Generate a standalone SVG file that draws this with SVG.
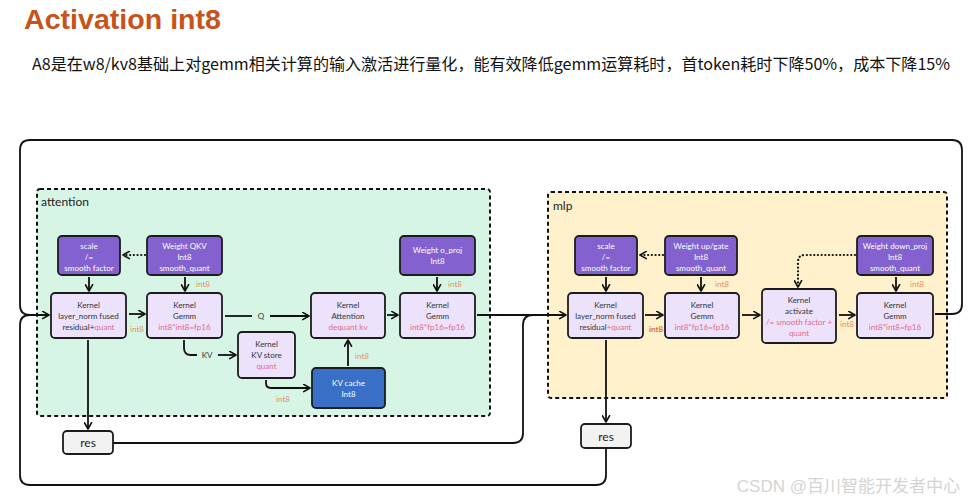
<svg xmlns="http://www.w3.org/2000/svg" width="971" height="500" viewBox="0 0 971 500">
<defs>
<marker id="ah" viewBox="0 0 10 10" refX="8" refY="5" markerWidth="9" markerHeight="9" markerUnits="userSpaceOnUse" orient="auto">
<path d="M1,1 L8,5 L1,9" fill="none" stroke="#111" stroke-width="1.8" stroke-linecap="round" stroke-linejoin="round"/>
</marker>
<style>
.t{font-family:Lato,"Open Sans","Noto Sans",sans-serif;font-size:8px;text-anchor:middle}
.w{fill:#ffffff}
.k{fill:#333}
.p{fill:#e56a88}
.o{fill:#e0906c}
.wt{fill:#8362cf;stroke:#1c1c1c;stroke-width:1.8}
.kn{fill:#ece2fb;stroke:#1c1c1c;stroke-width:1.8}
.kc{fill:#3a6fc8;stroke:#1c1c1c;stroke-width:1.8}
.rs{fill:#f2f2f2;stroke:#1c1c1c;stroke-width:1.8}
.c{fill:none;stroke:#111;stroke-width:1.8}
.a{marker-end:url(#ah)}
.d{stroke-dasharray:0.1,3.6;stroke-linecap:round;stroke-width:2.2}
.grp{stroke:#111;stroke-width:2;stroke-dasharray:4,3}
</style>
</defs>
<rect width="971" height="500" fill="#ffffff"/>
<text x="24" y="29" font-family="Liberation Sans,Arial,sans-serif" font-weight="bold" font-size="27" fill="#c8531a" textLength="197" lengthAdjust="spacingAndGlyphs">Activation int8</text>
<text x="32" y="70" font-family="'Noto Sans CJK SC',sans-serif" font-size="16" fill="#111" textLength="918" lengthAdjust="spacingAndGlyphs">A8是在w8/kv8基础上对gemm相关计算的输入激活进行量化，能有效降低gemm运算耗时，首token耗时下降50%，成本下降15%</text>

<g id="attention">
<rect x="37" y="189" width="453" height="227" rx="3" fill="#d7f5e5" class="grp"/>
<text x="41" y="206" font-family="Lato,'Open Sans',sans-serif" font-size="12" fill="#222">attention</text>
</g>
<g id="mlp">
<rect x="548" y="192" width="399" height="206" rx="3" fill="#fff1cb" class="grp"/>
<text x="553" y="210" font-family="Lato,'Open Sans',sans-serif" font-size="12" fill="#222">mlp</text>
</g>

<g id="connectors">
<path class="c a" d="M89,277 V291"/>
<path class="c a" d="M185,277 V291"/>
<path class="c a d" d="M145,255 H123"/>
<path class="c a" d="M437,277 V291"/>
<path class="c a" d="M129,314 H145"/>
<path class="c" d="M225,316 H252"/>
<path class="c a" d="M270,316 H309"/>
<path class="c" d="M184,340 V348 Q184,355 191,355 H197"/>
<path class="c a" d="M218,355 H236"/>
<path class="c a" d="M266,380 V383 Q266,388 271,388 H310"/>
<path class="c a" d="M348,366 V340"/>
<path class="c a" d="M387,315 H398"/>
<path class="c a" d="M88,340 V429"/>
<path class="c a" d="M477,315 H566"/>
<path class="c" d="M113,443 H513 Q523,443 523,433 V325 Q523,315 533,315"/>
<path class="c a" d="M606,277 V291"/>
<path class="c a" d="M701,277 V291"/>
<path class="c a d" d="M663,255 H640"/>
<path class="c a d" d="M855,255 H805 Q798,255 798,262 V287"/>
<path class="c a" d="M896,277 V291"/>
<path class="c a" d="M645,315 H663"/>
<path class="c a" d="M742,315 H760"/>
<path class="c a" d="M839,315 H855"/>
<path class="c a" d="M606,340 V422"/>
<path class="c a" d="M935,314 H952 Q962,314 962,304 V150 Q962,140 952,140 H30 Q20,140 20,150 V305 Q20,315 30,315 H49"/>
<path class="c" d="M30,315 Q20,315 20,325 V475 Q20,485 30,485 H596 Q606,485 606,475 V449"/>
<text class="t o" x="203" y="287">int8</text>
<text class="t o" x="455" y="287">int8</text>
<text class="t o" x="137" y="332">int8</text>
<text class="t k" x="261" y="319">Q</text>
<text class="t k" x="207" y="358">KV</text>
<text class="t o" x="283" y="402">int8</text>
<text class="t o" x="362" y="359">int8</text>
<text class="t o" x="722" y="287">int8</text>
<text class="t o" x="917" y="287">int8</text>
<text class="t" x="656" y="332" fill="#d9703c" font-weight="bold" font-size="9">int8</text>
<text class="t o" x="847" y="327" font-size="4">int8</text>
</g>

<g id="a_scale">
<rect class="wt" x="58" y="236" width="62" height="39" rx="4"/>
<text class="t w" x="89" y="249">scale</text>
<text class="t w" x="89" y="260">/=</text>
<text class="t w" x="89" y="271">smooth factor</text>
</g>
<g id="a_wqkv">
<rect class="wt" x="147" y="236" width="75" height="39" rx="4"/>
<text class="t w" x="184.5" y="249">Weight QKV</text>
<text class="t w" x="184.5" y="260">Int8</text>
<text class="t w" x="184.5" y="271">smooth_quant</text>
</g>
<g id="a_wo">
<rect class="wt" x="400" y="236" width="75" height="39" rx="4"/>
<text class="t w" x="437.5" y="253">Weight o_proj</text>
<text class="t w" x="437.5" y="264">Int8</text>
</g>
<g id="a_ln">
<rect class="kn" x="51" y="293" width="75" height="45" rx="4"/>
<text class="t k" x="88.5" y="308">Kernel</text>
<text class="t k" x="88.5" y="319">layer_norm fused</text>
<text class="t k" x="88.5" y="330">residual+<tspan class="p">quant</tspan></text>
</g>
<g id="a_gemm1">
<rect class="kn" x="147" y="293" width="75" height="45" rx="4"/>
<text class="t k" x="184.5" y="308">Kernel</text>
<text class="t k" x="184.5" y="319">Gemm</text>
<text class="t p" x="184.5" y="330">int8*int8=fp16</text>
</g>
<g id="a_attn">
<rect class="kn" x="311" y="293" width="74" height="45" rx="4"/>
<text class="t k" x="348" y="308">Kernel</text>
<text class="t k" x="348" y="319">Attention</text>
<text class="t p" x="348" y="330">dequant kv</text>
</g>
<g id="a_gemm2">
<rect class="kn" x="400" y="293" width="75" height="45" rx="4"/>
<text class="t k" x="437.5" y="308">Kernel</text>
<text class="t k" x="437.5" y="319">Gemm</text>
<text class="t p" x="437.5" y="330">int8*fp16=fp16</text>
</g>
<g id="a_kvstore">
<rect class="kn" x="238" y="332" width="57" height="46" rx="4"/>
<text class="t k" x="266.5" y="347">Kernel</text>
<text class="t k" x="266.5" y="358">KV store</text>
<text class="t p" x="266.5" y="369">quant</text>
</g>
<g id="a_kvcache">
<rect class="kc" x="312" y="368" width="73" height="40" rx="4"/>
<text class="t w" x="348.5" y="386">KV cache</text>
<text class="t w" x="348.5" y="397">Int8</text>
</g>
<g id="a_res">
<rect class="rs" x="63" y="431" width="50" height="23" rx="4"/>
<text x="88" y="447" font-family="Lato,'Open Sans',sans-serif" font-size="12" text-anchor="middle" fill="#222">res</text>
</g>

<g id="m_scale">
<rect class="wt" x="575" y="236" width="62" height="39" rx="4"/>
<text class="t w" x="606" y="249">scale</text>
<text class="t w" x="606" y="260">/=</text>
<text class="t w" x="606" y="271">smooth factor</text>
</g>
<g id="m_wup">
<rect class="wt" x="665" y="236" width="72" height="39" rx="4"/>
<text class="t w" x="701" y="249">Weight up/gate</text>
<text class="t w" x="701" y="260">Int8</text>
<text class="t w" x="701" y="271">smooth_quant</text>
</g>
<g id="m_wdown">
<rect class="wt" x="857" y="236" width="76" height="39" rx="4"/>
<text class="t w" x="895" y="249">Weight down_proj</text>
<text class="t w" x="895" y="260">Int8</text>
<text class="t w" x="895" y="271">smooth_quant</text>
</g>
<g id="m_ln">
<rect class="kn" x="568" y="293" width="75" height="45" rx="4"/>
<text class="t k" x="605.5" y="308">Kernel</text>
<text class="t k" x="605.5" y="319">layer_norm fused</text>
<text class="t k" x="605.5" y="330">residual<tspan class="p">+quant</tspan></text>
</g>
<g id="m_gemm1">
<rect class="kn" x="665" y="293" width="74" height="45" rx="4"/>
<text class="t k" x="702" y="308">Kernel</text>
<text class="t k" x="702" y="319">Gemm</text>
<text class="t p" x="702" y="330">int8*fp16=fp16</text>
</g>
<g id="m_act">
<rect class="kn" x="762" y="289" width="74" height="54" rx="4"/>
<text class="t k" x="799" y="303">Kernel</text>
<text class="t k" x="799" y="314">activate</text>
<text class="t p" x="799" y="325">/= smooth factor +</text>
<text class="t p" x="799" y="336">quant</text>
</g>
<g id="m_gemm2">
<rect class="kn" x="857" y="293" width="76" height="45" rx="4"/>
<text class="t k" x="895" y="308">Kernel</text>
<text class="t k" x="895" y="319">Gemm</text>
<text class="t p" x="895" y="330">int8*int8=fp16</text>
</g>
<g id="m_res">
<rect class="rs" x="581" y="424" width="50" height="24" rx="4"/>
<text x="606" y="441" font-family="Lato,'Open Sans',sans-serif" font-size="12" text-anchor="middle" fill="#222">res</text>
</g>

<text x="960" y="492" text-anchor="end" font-family="'Liberation Sans','Noto Sans CJK SC',sans-serif" font-size="17" fill="#d4d4d4">CSDN @百川智能开发者中心</text>
</svg>
